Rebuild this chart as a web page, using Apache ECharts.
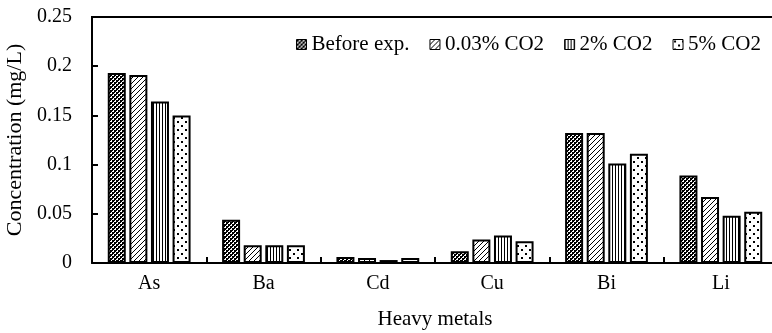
<!DOCTYPE html>
<html>
<head>
<meta charset="utf-8">
<script src="https://cdn.jsdelivr.net/npm/echarts@6/dist/echarts.min.js"></script>
<style>
  html, body { margin: 0; padding: 0; background: #fff; }
  #chart { width: 772px; height: 333px; }
</style>
</head>
<body>
<div id="chart"></div>
<script>
// Heavy metal concentrations (mg/L) before and after CO2 exposure
const metals = ['As', 'Ba', 'Cd', 'Cu', 'Bi', 'Li'];
const seriesNames = ['Before exp.', '0.03% CO2', '2% CO2', '5% CO2'];
const beforeExp = [0.193, 0.044, 0.006, 0.012, 0.132, 0.089];
const co2Ambient = [0.191, 0.018, 0.005, 0.024, 0.132, 0.067];
const co2Two = [0.164, 0.018, 0.003, 0.028, 0.101, 0.048];
const co2Five = [0.150, 0.018, 0.005, 0.022, 0.111, 0.052];
const yTicks = [0, 0.05, 0.1, 0.15, 0.2, 0.25];

const FONT = '"Liberation Serif", "Times New Roman", serif';

// Small repeating tiles used as bar fills
function tile(w, h, draw) {
  const c = document.createElement('canvas');
  c.width = w; c.height = h;
  const g = c.getContext('2d');
  g.fillStyle = '#fff';
  g.fillRect(0, 0, w, h);
  g.fillStyle = '#000';
  draw(g);
  return c;
}
const checker = tile(4, 4, g => {
  g.fillRect(0, 0, 2, 2);
  g.fillRect(2, 2, 2, 2);
  g.fillRect(2, 0, 1, 1);
  g.fillRect(0, 2, 1, 1);
});
const diagonal = tile(5, 5, g => {
  for (let i = 0; i < 5; i++) g.fillRect(4 - i, i, 1, 1);
});
const vertical = tile(3, 3, g => {
  g.fillRect(0, 0, 1, 3);
});
const dots = tile(8, 8, g => {
  g.fillRect(1, 1, 2, 2);
  g.fillRect(5, 5, 2, 2);
});
const fills = [checker, diagonal, vertical, dots];
const dataSets = [beforeExp, co2Ambient, co2Two, co2Five];

const chart = echarts.init(document.getElementById('chart'), null, { renderer: 'canvas' });

const series = seriesNames.map((name, i) => ({
  name: name,
  type: 'bar',
  data: dataSets[i],
  barWidth: 18,
  barGap: '20%',
  itemStyle: {
    color: { image: fills[i], repeat: 'repeat' },
    borderColor: '#000',
    borderWidth: 2
  }
}));

chart.setOption({
  animation: false,
  backgroundColor: '#fff',
  textStyle: { fontFamily: FONT },
  grid: {
    left: 92, width: 686, top: 17, height: 246,
    containLabel: false, outerBoundsMode: 'none'
  },
  legend: {
    data: seriesNames.map(n => ({ name: n, icon: 'rect' })),
    left: 291,
    top: 29,
    itemWidth: 10,
    itemHeight: 10,
    itemGap: 20,
    textStyle: { fontFamily: FONT, fontSize: 21, color: '#000' },
    itemStyle: { borderColor: '#000', borderWidth: 1 }
  },
  xAxis: {
    type: 'category',
    data: metals,
    name: 'Heavy metals',
    nameLocation: 'middle',
    nameGap: 46,
    nameTextStyle: { fontFamily: FONT, fontSize: 21, color: '#000' },
    axisLine: { show: true, lineStyle: { color: '#000', width: 2 } },
    axisTick: { show: true, inside: true, length: 6, lineStyle: { color: '#000', width: 2 } },
    axisLabel: { fontFamily: FONT, fontSize: 20, color: '#000', margin: 11 },
    splitLine: { show: false }
  },
  yAxis: {
    type: 'value',
    min: 0,
    max: 0.25,
    interval: 0.05,
    name: 'Concentration (mg/L)',
    nameLocation: 'middle',
    nameGap: 64,
    nameTextStyle: { fontFamily: FONT, fontSize: 22, color: '#000' },
    axisLine: { show: true, lineStyle: { color: '#000', width: 2 } },
    axisTick: { show: true, inside: true, length: 6, lineStyle: { color: '#000', width: 2 } },
    axisLabel: {
      fontFamily: FONT, fontSize: 20, color: '#000', margin: 20,
      formatter: v => {
        const t = yTicks.find(x => Math.abs(x - v) < 1e-9);
        return String(t !== undefined ? t : v);
      }
    },
    splitLine: { show: false }
  },
  graphic: [{
    type: 'line',
    shape: { x1: 91, y1: 17, x2: 772, y2: 17 },
    style: { stroke: '#000', lineWidth: 2 },
    z: 10
  }],
  series: series
});
</script>
</body>
</html>
